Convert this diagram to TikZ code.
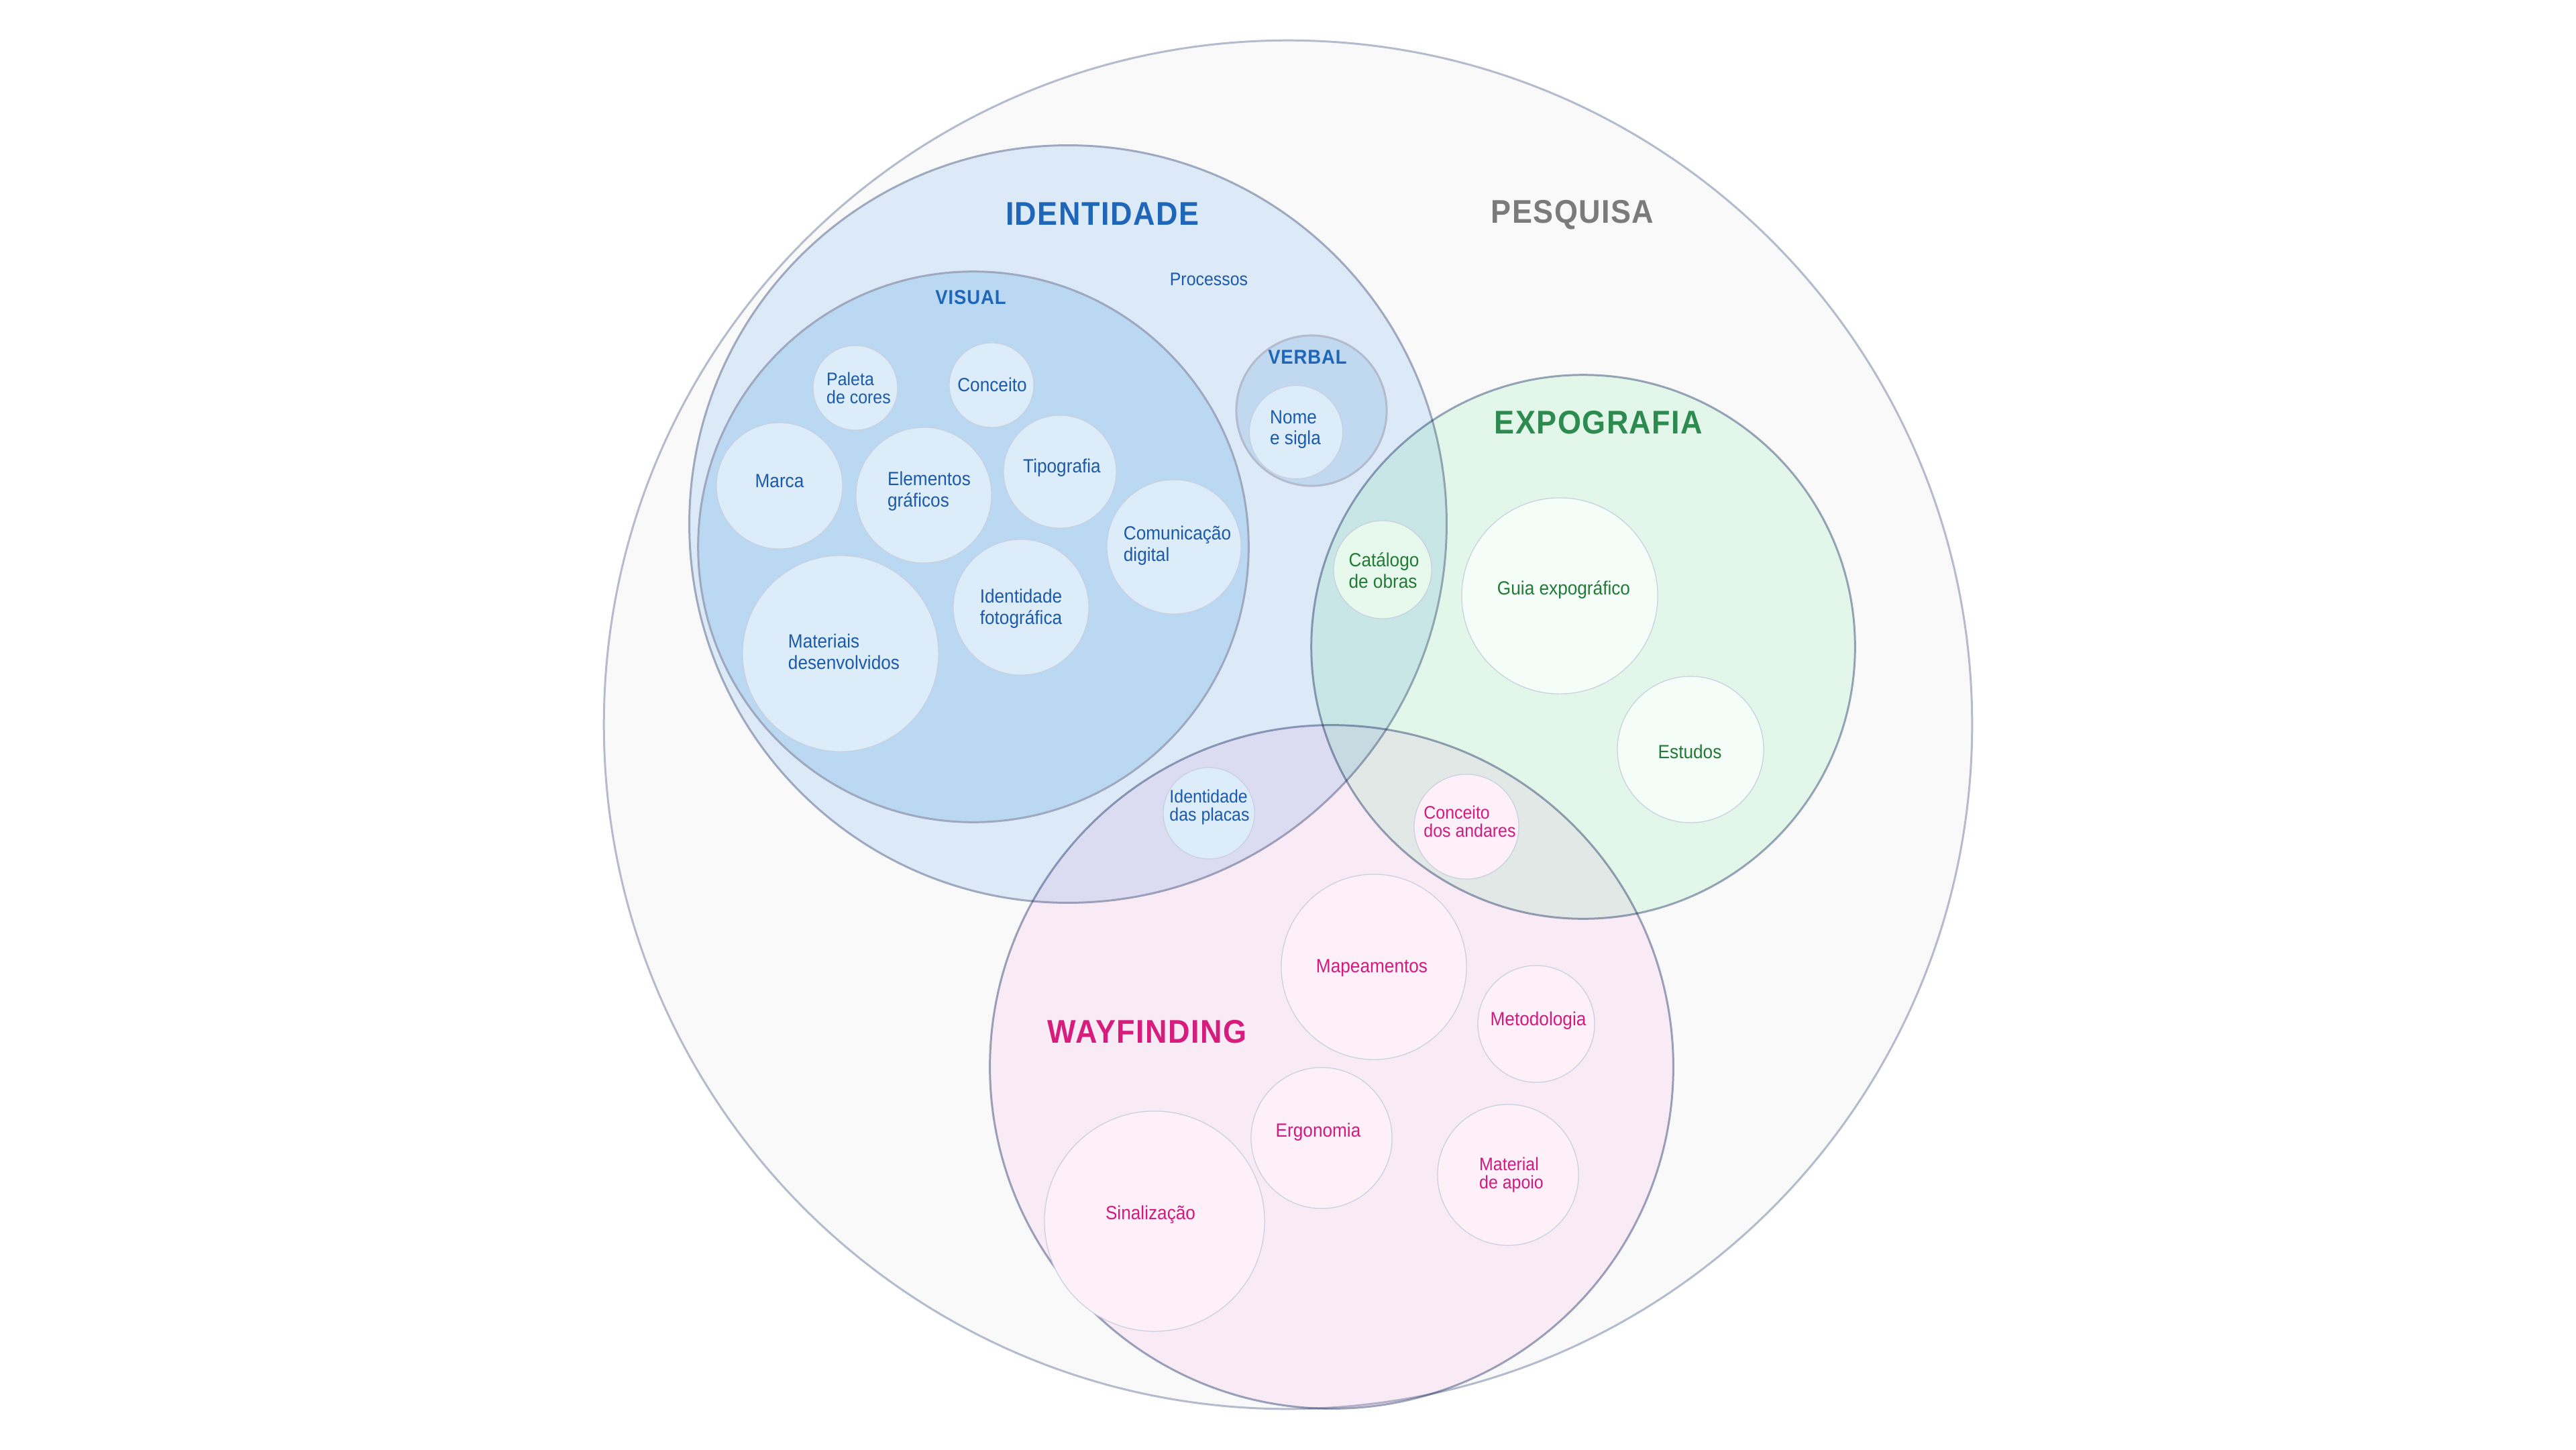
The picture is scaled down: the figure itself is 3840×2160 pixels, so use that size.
\documentclass[tikz,border=0pt]{standalone}
\usepackage{fontspec}
\setmainfont{Liberation Sans}[FakeStretch=0.92]
\newfontfamily\ttlfont{Liberation Sans}[FakeStretch=0.92,LetterSpace=3]
\definecolor{pqfill}{RGB}{249,249,250}
\definecolor{edge}{RGB}{180,187,205}
\definecolor{edgedark}{RGB}{158,168,190}
\definecolor{itemedge}{RGB}{200,208,224}
\definecolor{idfill}{RGB}{220,233,246}
\definecolor{visfill}{RGB}{187,216,242}
\definecolor{verbfill}{RGB}{192,216,240}
\definecolor{expfill}{RGB}{232,252,239}
\definecolor{wayfill}{RGB}{254,241,250}
\definecolor{blueitem}{RGB}{221,236,249}
\definecolor{greenitem}{RGB}{230,249,236}
\definecolor{paleitem}{RGB}{244,253,248}
\definecolor{pinkitem}{RGB}{253,240,249}
\definecolor{bluetitle}{RGB}{31,102,184}
\definecolor{bluetext}{RGB}{28,90,168}
\definecolor{greentitle}{RGB}{46,139,79}
\definecolor{greentext}{RGB}{35,122,53}
\definecolor{magtitle}{RGB}{214,28,124}
\definecolor{magtext}{RGB}{212,25,127}
\definecolor{graytitle}{RGB}{123,123,123}
\begin{document}
\begin{tikzpicture}[x=0.01cm,y=-0.01cm,
  rad/.style={minimum size=#1*0.02cm},
  zone/.style={circle,inner sep=0pt,outer sep=0pt,draw=edge,line width=0.85pt},
  itemc/.style={circle,inner sep=0pt,outer sep=0pt,draw=itemedge,line width=0.35pt},
  itemt/.style={inner sep=0pt,align=left,font=\fontsize{8.1}{9}\selectfont},
  tight/.style={font=\fontsize{7.7}{7.7}\selectfont},
  bigttl/.style={inner sep=0pt,font=\ttlfont\bfseries\fontsize{13.9}{14}\selectfont},
  subttl/.style={inner sep=0pt,font=\ttlfont\bfseries\fontsize{8.5}{9}\selectfont}]
\useasboundingbox (0,0) rectangle (3840,2160);
% zones
\node[zone,fill=pqfill,rad=1019] (pesquisa) at (1920,1080) {};
\node[zone,fill=idfill,draw=edgedark,rad=564] (identidade) at (1592,781) {};
\node[zone,fill=visfill,draw=edgedark,rad=410] (visual) at (1451,815) {};
\node[zone,fill=verbfill,rad=112] (verbal) at (1955,612) {};
\begin{scope}[blend mode=multiply]
\node[zone,fill=expfill,draw=edgedark,rad=405] (expografia) at (2360,964) {};
\node[zone,fill=wayfill,draw=edgedark,rad=509] (wayfinding) at (1985,1590) {};
\end{scope}
% visual items
\node[itemc,fill=blueitem,rad=63] (c-paleta) at (1275,578) {};
\node[itemc,fill=blueitem,rad=63] (c-conceito) at (1478,574) {};
\node[itemc,fill=blueitem,rad=94] (c-marca) at (1162,724) {};
\node[itemc,fill=blueitem,rad=101] (c-elementos) at (1377,738) {};
\node[itemc,fill=blueitem,rad=84] (c-tipografia) at (1580,703) {};
\node[itemc,fill=blueitem,rad=100] (c-comunicacao) at (1750,815) {};
\node[itemc,fill=blueitem,rad=101] (c-fotografica) at (1522,905) {};
\node[itemc,fill=blueitem,rad=146] (c-materiais) at (1253,974) {};
\node[itemc,fill=blueitem,rad=69.5] (c-nome) at (1932,644) {};
% expografia items
\node[itemc,fill=greenitem,rad=73] (c-catalogo) at (2061,849) {};
\node[itemc,fill=paleitem,rad=146] (c-guia) at (2325,888) {};
\node[itemc,fill=paleitem,rad=109] (c-estudos) at (2520,1117) {};
% wayfinding items
\node[itemc,fill=pinkitem,rad=78] (c-andares) at (2186,1232) {};
\node[itemc,fill=blueitem,rad=68] (c-placas) at (1802,1212) {};
\node[itemc,fill=pinkitem,rad=138] (c-mapeamentos) at (2048,1441) {};
\node[itemc,fill=pinkitem,rad=87] (c-metodologia) at (2290,1526) {};
\node[itemc,fill=pinkitem,rad=105] (c-ergonomia) at (1970,1696) {};
\node[itemc,fill=pinkitem,rad=105] (c-material) at (2248,1751) {};
\node[itemc,fill=pinkitem,rad=164] (c-sinalizacao) at (1721,1820) {};
% titles
\node[bigttl,text=graytitle] (t-pesquisa) at (2344,320) {PESQUISA};
\node[bigttl,text=bluetitle] (t-identidade) at (1643,319) {IDENTIDADE};
\node[subttl,text=bluetitle] (t-visual) at (1447,443) {VISUAL};
\node[subttl,text=bluetitle] (t-verbal) at (1949,532) {VERBAL};
\node[bigttl,text=greentitle] (t-expografia) at (2383,630) {EXPOGRAFIA};
\node[bigttl,text=magtitle] (t-wayfinding) at (1710,1538) {WAYFINDING};
% texts
\node[itemt,tight,text=bluetext] (t-processos) at (1802,416) {Processos};
\node[itemt,tight,text=bluetext] (t-paleta) at (1280,578) {Paleta\\de cores};
\node[itemt,text=bluetext] (t-conceito) at (1479,573) {Conceito};
\node[itemt,text=bluetext] (t-marca) at (1162,717) {Marca};
\node[itemt,text=bluetext] (t-elementos) at (1385,732) {Elementos\\gráficos};
\node[itemt,text=bluetext] (t-tipografia) at (1583,697) {Tipografia};
\node[itemt,text=bluetext] (t-comunicacao) at (1755,813) {Comunicação\\digital};
\node[itemt,text=bluetext] (t-fotografica) at (1522,907) {Identidade\\fotográfica};
\node[itemt,text=bluetext] (t-materiais) at (1258,971) {Materiais\\desenvolvidos};
\node[itemt,text=bluetext] (t-nome) at (1931,640) {Nome\\e sigla};
\node[itemt,text=greentext] (t-catalogo) at (2063,850) {Catálogo\\de obras};
\node[itemt,text=greentext] (t-guia) at (2331,879) {Guia expográfico};
\node[itemt,text=greentext] (t-estudos) at (2519,1120) {Estudos};
\node[itemt,tight,text=magtext] (t-andares) at (2191,1224) {Conceito\\dos andares};
\node[itemt,tight,text=bluetext] (t-placas) at (1803,1203) {Identidade\\das placas};
\node[itemt,text=magtext] (t-mapeamentos) at (2045,1443) {Mapeamentos};
\node[itemt,text=magtext] (t-metodologia) at (2293,1521) {Metodologia};
\node[itemt,text=magtext] (t-ergonomia) at (1965,1687) {Ergonomia};
\node[itemt,tight,text=magtext] (t-material) at (2253,1751) {Material\\de apoio};
\node[itemt,text=magtext] (t-sinalizacao) at (1715,1810) {Sinalização};
\end{tikzpicture}
\end{document}
